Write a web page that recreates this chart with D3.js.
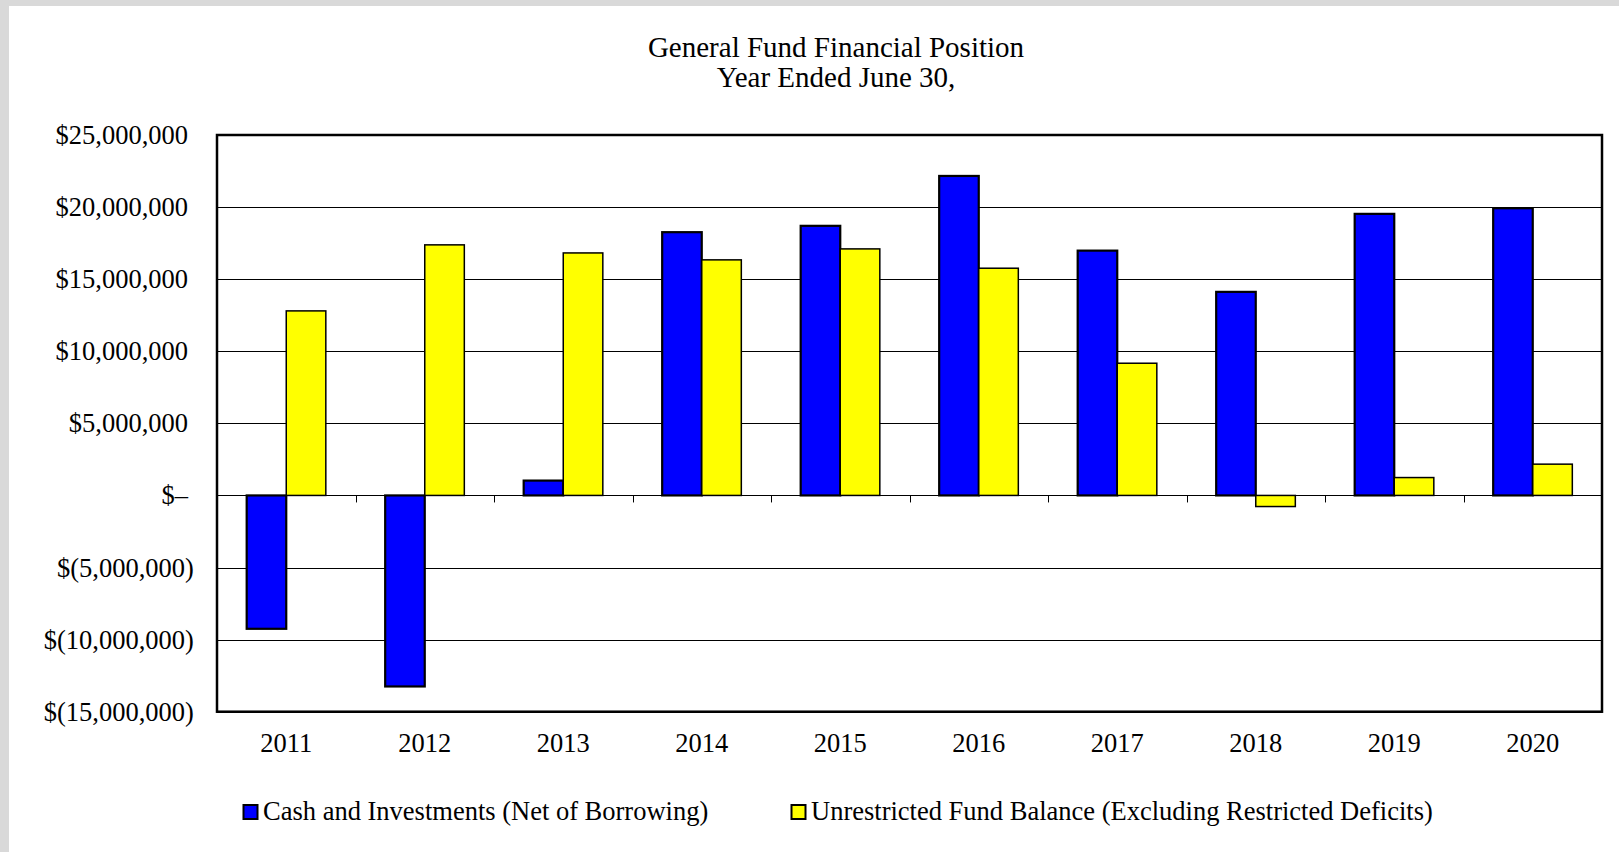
<!DOCTYPE html>
<html>
<head>
<meta charset="utf-8">
<script src="https://cdn.jsdelivr.net/npm/d3@7"></script>
<style>
  body { margin: 0; background: #d9d9d9; }
  svg { display: block; font-family: "Liberation Serif", "Times New Roman", serif; }
</style>
</head>
<body>
<div id="chart"></div>
<script>
var years = ["2011", "2012", "2013", "2014", "2015", "2016", "2017", "2018", "2019", "2020"];
var seriesNames = ["Cash and Investments (Net of Borrowing)", "Unrestricted Fund Balance (Excluding Restricted Deficits)"];
var cashValues = [-9250000, -13250000, 1030000, 18260000, 18700000, 22160000, 16980000, 14120000, 19530000, 19920000];
var fundValues = [12800000, 17380000, 16820000, 16340000, 17100000, 15760000, 9170000, -770000, 1240000, 2170000];
var yTicks = [25000000, 20000000, 15000000, 10000000, 5000000, 0, -5000000, -10000000, -15000000];
var colors = ["#0000ff", "#ffff00"];

var width = 1619, height = 852;
var plotLeft = 217, plotRight = 1602, plotTop = 135, plotBottom = 711.7;

var svg = d3.select("#chart")
    .append("svg")
    .attr("width", width)
    .attr("height", height);

// page background
svg.append("rect").attr("x", 0).attr("y", 0).attr("width", width).attr("height", height).style("fill", "#d9d9d9");
svg.append("rect").attr("x", 9).attr("y", 6).attr("width", width - 9).attr("height", height - 6).style("fill", "#ffffff");

var x0 = d3.scaleBand().domain(years).range([plotLeft, plotRight]);
var x1 = d3.scaleBand().domain([0, 1]).range([0, x0.bandwidth()]).paddingOuter(0.75);
var y = d3.scaleLinear().domain([-15000000, 25000000]).range([plotBottom, plotTop]);

// title
svg.append("text").attr("x", 836).attr("y", 57).attr("text-anchor", "middle")
    .style("font-size", "29px").text("General Fund Financial Position");
svg.append("text").attr("x", 836).attr("y", 87).attr("text-anchor", "middle")
    .style("font-size", "29px").text("Year Ended June 30,");

// gridlines
svg.append("g").selectAll("line")
    .data(yTicks)
    .enter()
    .append("line")
    .attr("x1", plotLeft).attr("x2", plotRight)
    .attr("y1", function(d) { return Math.round(y(d)) + 0.5; })
    .attr("y2", function(d) { return Math.round(y(d)) + 0.5; })
    .style("stroke", "#000")
    .style("stroke-width", 1);

// y labels, accounting format
function fmt(d) {
    if (d === 0) return "$\u2013";
    var s = d3.format(",")(Math.abs(d));
    return d < 0 ? "$(" + s + ")" : "$" + s;
}
var yAxis = d3.axisLeft(y).tickValues(yTicks).tickFormat(fmt).tickSize(0).tickPadding(0);
var ya = svg.append("g").attr("transform", "translate(188,0)").call(yAxis);
ya.select(".domain").remove();
ya.selectAll("text")
    .style("font-size", "26.5px")
    .style("font-family", "Liberation Serif, Times New Roman, serif")
    .style("fill", "#000")
    .attr("dx", function(d) { return d < 0 ? "0.22em" : 0; });

// bars
var groups = svg.append("g").selectAll("g")
    .data(years)
    .enter()
    .append("g")
    .attr("transform", function(d) { return "translate(" + x0(d) + ",0)"; });

groups.selectAll("rect")
    .data(function(d, i) { return [cashValues[i], fundValues[i]].map(function(v, k) { return {k: k, v: v}; }); })
    .enter()
    .append("rect")
    .attr("x", function(d) { return x1(d.k); })
    .attr("width", x1.bandwidth())
    .attr("y", function(d) { return y(Math.max(0, d.v)); })
    .attr("height", function(d) { return Math.abs(y(d.v) - y(0)); })
    .style("fill", function(d) { return colors[d.k]; })
    .style("stroke", "#000")
    .style("stroke-width", function(d) { return d.k === 0 ? 2.2 : 1.5; });

// category ticks on zero line
svg.append("g").selectAll("line")
    .data(years.slice(1))
    .enter()
    .append("line")
    .attr("x1", function(d) { return Math.round(x0(d)) + 0.5; })
    .attr("x2", function(d) { return Math.round(x0(d)) + 0.5; })
    .attr("y1", y(0))
    .attr("y2", y(0) + 7)
    .style("stroke", "#000")
    .style("stroke-width", 1);

// plot border
svg.append("rect")
    .attr("x", plotLeft).attr("y", plotTop)
    .attr("width", plotRight - plotLeft).attr("height", plotBottom - plotTop)
    .style("fill", "none")
    .style("stroke", "#000")
    .style("stroke-width", 2.5);

// x labels
svg.append("g").selectAll("text")
    .data(years)
    .enter()
    .append("text")
    .attr("x", function(d) { return x0(d) + x0.bandwidth() / 2; })
    .attr("y", 752)
    .attr("text-anchor", "middle")
    .style("font-size", "26.5px")
    .text(function(d) { return d; });

// legend
var legendX = [243, 791];
var legend = svg.append("g").selectAll("g")
    .data(seriesNames)
    .enter()
    .append("g")
    .attr("transform", function(d, i) { return "translate(" + legendX[i] + ",0)"; });
legend.append("rect")
    .attr("x", 0.5).attr("y", 805)
    .attr("width", 14).attr("height", 14)
    .style("fill", function(d, i) { return colors[i]; })
    .style("stroke", "#000")
    .style("stroke-width", 2);
legend.append("text")
    .attr("x", 20).attr("y", 820)
    .style("font-size", "26.5px")
    .text(function(d) { return d; });
</script>
</body>
</html>
